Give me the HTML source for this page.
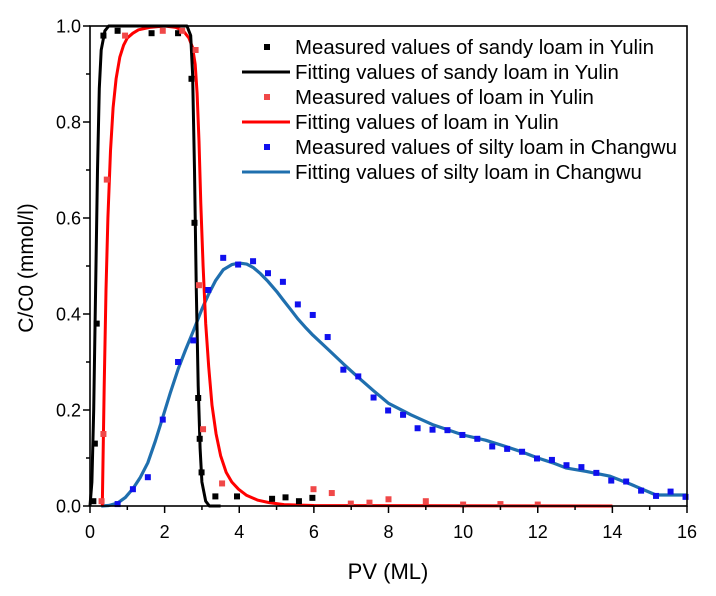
<!DOCTYPE html>
<html><head><meta charset="utf-8"><style>
html,body{margin:0;padding:0;background:#fff;}
svg{display:block;font-family:"Liberation Sans",Arial,sans-serif;}
</style></head><body>
<svg id="chart" width="716" height="596" viewBox="0 0 716 596" xmlns="http://www.w3.org/2000/svg">
<g id="plot"></g>
<g id="axes"></g>
<text x="0" y="0" transform="translate(33,268) rotate(-90)" text-anchor="middle" font-size="21">C/C0 (mmol/l)</text>
<text x="388" y="579" text-anchor="middle" font-size="22">PV (ML)</text>
<g id="legend"></g>
</svg>
<script>
const xTicks=[0,2,4,6,8,10,12,14,16];
const yTicks=[0,0.2,0.4,0.6,0.8,1.0];
const yTickLabels=["0.0","0.2","0.4","0.6","0.8","1.0"];
const sandyX=[0.09,0.13,0.18,0.36,0.74,1.65,2.36,2.72,2.8,2.9,2.94,2.99,3.36,3.94,4.88,5.24,5.6,5.96];
const sandyY=[0.01,0.13,0.38,0.98,0.99,0.985,0.985,0.89,0.59,0.225,0.14,0.07,0.02,0.02,0.015,0.018,0.01,0.017];
const sandyFitX=[0,0.05,0.1,0.15,0.2,0.25,0.3,0.4,0.5,2.6,2.7,2.75,2.8,2.85,2.9,2.95,3.0,3.1,3.2,3.5];
const sandyFitY=[0,0.05,0.2,0.45,0.7,0.87,0.95,0.99,1,1,0.98,0.9,0.7,0.45,0.25,0.12,0.05,0.01,0,0];
const loamX=[0.31,0.36,0.45,0.94,1.95,2.47,2.83,2.92,3.03,3.54,5.99,6.48,6.99,7.49,8.0,9.0,10,11,12];
const loamY=[0.01,0.15,0.68,0.98,0.99,0.99,0.95,0.46,0.16,0.047,0.035,0.027,0.005,0.007,0.014,0.01,0.003,0.004,0.003];
const loamFitX=[0.33,0.38,0.43,0.48,0.55,0.62,0.7,0.8,0.9,1.0,1.15,1.3,1.6,2.0,2.3,2.5,2.65,2.75,2.82,2.87,2.92,2.97,3.03,3.1,3.18,3.27,3.38,3.5,3.65,3.8,3.98,4.2,4.5,4.8,5.2,6,14];
const loamFitY=[0,0.25,0.45,0.6,0.74,0.83,0.89,0.935,0.96,0.975,0.985,0.992,0.997,1,0.997,0.99,0.975,0.955,0.92,0.86,0.76,0.63,0.5,0.38,0.29,0.21,0.15,0.105,0.07,0.05,0.035,0.022,0.012,0.007,0.003,0.001,0];
const siltX=[0.74,1.15,1.55,1.95,2.36,2.77,3.17,3.57,3.97,4.37,4.77,5.17,5.57,5.97,6.37,6.79,7.19,7.6,7.99,8.39,8.78,9.18,9.58,9.98,10.38,10.78,11.18,11.58,11.98,12.38,12.77,13.17,13.57,13.97,14.37,14.77,15.17,15.56,15.96];
const siltY=[0.004,0.035,0.06,0.18,0.3,0.345,0.45,0.517,0.503,0.51,0.485,0.467,0.42,0.398,0.352,0.284,0.27,0.226,0.199,0.19,0.162,0.159,0.158,0.148,0.14,0.124,0.119,0.113,0.099,0.096,0.085,0.081,0.069,0.053,0.051,0.032,0.021,0.03,0.019];
const siltFitX=[0.3,0.5,0.74,0.95,1.15,1.35,1.55,1.75,1.95,2.15,2.36,2.56,2.77,3.0,3.17,3.37,3.57,3.8,4.0,4.2,4.37,4.57,4.77,5.0,5.17,5.37,5.57,5.8,5.97,6.37,6.79,7.19,7.6,8.0,8.6,9.2,10.0,10.6,11.1,11.6,12.0,12.4,12.77,13.3,13.94,14.5,15.17,16];
const siltFitY=[0,0.001,0.006,0.018,0.036,0.06,0.09,0.135,0.185,0.235,0.285,0.325,0.365,0.41,0.44,0.47,0.492,0.503,0.506,0.504,0.497,0.484,0.468,0.447,0.43,0.41,0.39,0.37,0.356,0.327,0.296,0.268,0.24,0.214,0.19,0.169,0.148,0.137,0.125,0.112,0.1,0.09,0.079,0.072,0.062,0.045,0.023,0.023];

const NS="http://www.w3.org/2000/svg";
const L=90,R=687,T=26,B=506;
const xs=v=>L+(v-0)/(16-0)*(R-L);
const ys=v=>B-(v-0)/(1-0)*(B-T);
const plot=document.getElementById('plot'),axes=document.getElementById('axes'),legend=document.getElementById('legend');
function mk(tag,attrs,parent){const e=document.createElementNS(NS,tag);for(const k in attrs)e.setAttribute(k,attrs[k]);parent.appendChild(e);return e;}
function line(xa,ya,color,w,name){
  const d=xa.map((x,i)=>(i?'L':'M')+xs(x).toFixed(1)+','+ys(ya[i]).toFixed(1)).join('');
  const p=mk('path',{d:d,fill:'none',stroke:color,'stroke-width':w,'stroke-linejoin':'round'},plot);
  
  
}
function pts(xa,ya,color,name){
  xa.forEach((x,i)=>{
    const r=mk('rect',{x:xs(x)-3,y:ys(ya[i])-3,width:6,height:6,fill:color},plot);
    
    
  });
}
line(siltFitX,siltFitY,'#1f6fae',3.2,'silty-loam-fit-line');
line(loamFitX,loamFitY,'#ff0000',3,'loam-fit-line');
line(sandyFitX,sandyFitY,'#000000',3,'sandy-loam-fit-line');
pts(sandyX,sandyY,'#000000','sandy-loam-point');
pts(loamX,loamY,'#f04848','loam-point');
pts(siltX,siltY,'#1010ee','silty-loam-point');

mk('rect',{x:L,y:T,width:R-L,height:B-T,fill:'none',stroke:'#000','stroke-width':1.6},axes);
xTicks.forEach(v=>{
  mk('line',{x1:xs(v),x2:xs(v),y1:B,y2:B+7,stroke:'#000','stroke-width':1.5},axes);
  if(v<16) mk('line',{x1:xs(v+1),x2:xs(v+1),y1:B,y2:B+4,stroke:'#000','stroke-width':1.5},axes);
  const t=mk('text',{x:xs(v),y:B+32,'text-anchor':'middle','font-size':18},axes);
  t.textContent=v;
  
  
});
yTicks.forEach((v,i)=>{
  mk('line',{x1:L-7,x2:L,y1:ys(v),y2:ys(v),stroke:'#000','stroke-width':1.5},axes);
  if(v<1) mk('line',{x1:L-4,x2:L,y1:ys(v+0.1),y2:ys(v+0.1),stroke:'#000','stroke-width':1.5},axes);
  const t=mk('text',{x:L-9,y:ys(v)+6.5,'text-anchor':'end','font-size':18},axes);
  t.textContent=yTickLabels[i];
  
  
});
const legItems=[
 ['pt','#000000','Measured values of sandy loam in Yulin'],
 ['ln','#000000','Fitting values of sandy loam in Yulin'],
 ['pt','#f04848','Measured values of loam in Yulin'],
 ['ln','#ff0000','Fitting values of loam in Yulin'],
 ['pt','#1010ee','Measured values of silty loam in Changwu'],
 ['ln','#1f6fae','Fitting values of silty loam in Changwu']];
legItems.forEach((it,i)=>{
  const y=47+i*25;
  if(it[0]==='pt') mk('rect',{x:264,y:y-3,width:6,height:6,fill:it[1]},legend);
  else mk('line',{x1:242,x2:290,y1:y,y2:y,stroke:it[1],'stroke-width':3},legend);
  const t=mk('text',{x:295,y:y+7,'font-size':20.4},legend);
  t.textContent=it[2];
  
  
});
</script>
</body></html>
